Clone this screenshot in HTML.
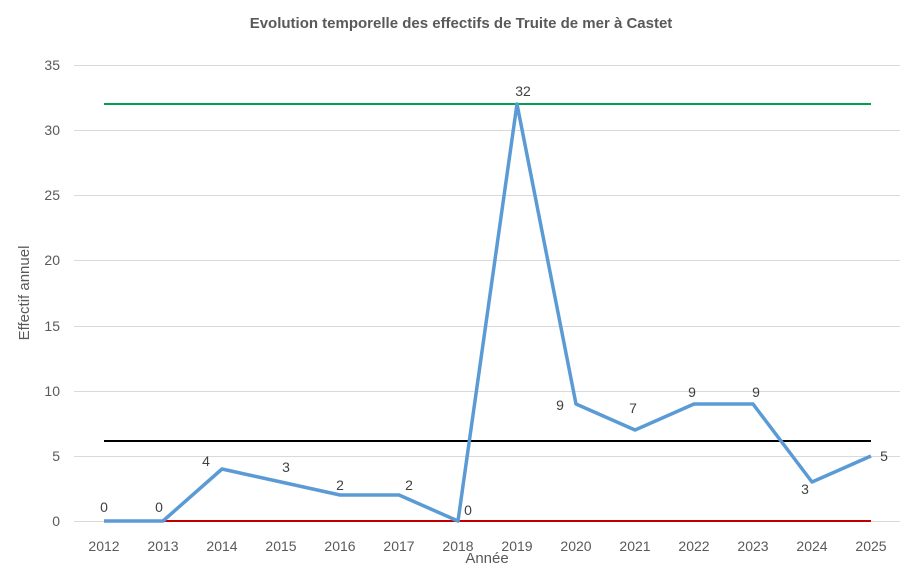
<!DOCTYPE html>
<html><head><meta charset="utf-8"><style>
body{margin:0;background:#fff}
svg{display:block;font-family:"Liberation Sans",Calibri,sans-serif}
</style></head><body>
<svg width="923" height="567" viewBox="0 0 923 567">
<rect width="923" height="567" fill="#fff"/>
<text x="461" y="28" text-anchor="middle" font-size="15" font-weight="bold" fill="#595959">Evolution temporelle des effectifs de Truite de mer à Castet</text>
<g stroke="#d9d9d9" stroke-width="1">
<line x1="74" x2="900" y1="65.5" y2="65.5"/>
<line x1="74" x2="900" y1="130.5" y2="130.5"/>
<line x1="74" x2="900" y1="195.5" y2="195.5"/>
<line x1="74" x2="900" y1="260.5" y2="260.5"/>
<line x1="74" x2="900" y1="326.5" y2="326.5"/>
<line x1="74" x2="900" y1="391.5" y2="391.5"/>
<line x1="74" x2="900" y1="456.5" y2="456.5"/>
<line x1="74" x2="900" y1="521.5" y2="521.5"/>
</g>
<g font-size="14" fill="#595959" text-anchor="end">
<text x="60" y="70">35</text><text x="60" y="135">30</text><text x="60" y="200">25</text>
<text x="60" y="265">20</text><text x="60" y="331">15</text><text x="60" y="396">10</text>
<text x="60" y="461">5</text><text x="60" y="526">0</text>
</g>
<g font-size="14" fill="#595959" text-anchor="middle">
<text x="104" y="551">2012</text><text x="163" y="551">2013</text><text x="222" y="551">2014</text>
<text x="281" y="551">2015</text><text x="340" y="551">2016</text><text x="399" y="551">2017</text>
<text x="458" y="551">2018</text><text x="517" y="551">2019</text><text x="576" y="551">2020</text>
<text x="635" y="551">2021</text><text x="694" y="551">2022</text><text x="753" y="551">2023</text>
<text x="812" y="551">2024</text><text x="871" y="551">2025</text>
</g>
<text x="487" y="563" text-anchor="middle" font-size="15" fill="#595959">Année</text>
<text transform="translate(29,293) rotate(-90)" text-anchor="middle" font-size="15" fill="#595959">Effectif annuel</text>
<line x1="104" x2="871" y1="104" y2="104" stroke="#00a050" stroke-width="2"/>
<line x1="104" x2="871" y1="441" y2="441" stroke="#000" stroke-width="2"/>
<line x1="104" x2="871" y1="521" y2="521" stroke="#c00000" stroke-width="2"/>
<polyline fill="none" stroke="#5b9bd5" stroke-width="3.5" stroke-linejoin="round" points="104,521 163,521 222,469 281,482 340,495 399,495 458,521 517,104 576,404 635,430 694,404 753,404 812,482 871,456"/>
<g font-size="14" fill="#404040" text-anchor="middle">
<text x="104" y="512">0</text><text x="159" y="512">0</text><text x="206" y="466">4</text>
<text x="286" y="472">3</text><text x="340" y="490">2</text><text x="409" y="490">2</text>
<text x="468" y="515">0</text><text x="523" y="96">32</text><text x="560" y="410">9</text>
<text x="633" y="413">7</text><text x="692" y="397">9</text><text x="756" y="397">9</text>
<text x="805" y="494">3</text><text x="884" y="461">5</text>
</g>
</svg>
</body></html>
